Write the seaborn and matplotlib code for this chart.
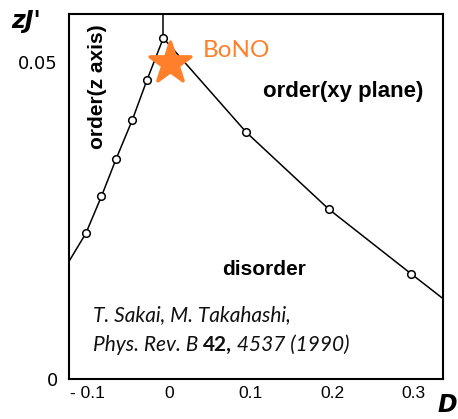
import numpy as np
import pandas as pd
import matplotlib.pyplot as plt
import seaborn as sns

d_line = [-0.123, -0.102, -0.083, -0.065, -0.045, -0.027, -0.007, 0.095, 0.196, 0.297, 0.336]
zj_line = [0.0185, 0.0230, 0.0288, 0.0347, 0.0409, 0.0472, 0.0538, 0.0389, 0.0268, 0.0166, 0.0127]

# Computed points (open circles)
d_pts = [-0.102, -0.083, -0.065, -0.045, -0.027, -0.007, 0.095, 0.196, 0.297]
zj_pts = [0.0230, 0.0288, 0.0347, 0.0409, 0.0472, 0.0538, 0.0389, 0.0268, 0.0166]

# Vertical boundary between the two ordered phases
d_vert = [-0.007, -0.007]
zj_vert = [0.0538, 0.0576]

# BoNO estimate
bono_d = [0.001]
bono_zj = [0.0498]

x_ticks = [-0.1, 0, 0.1, 0.2, 0.3]
x_labels = ['- 0.1', '0', '0.1', '0.2', '0.3']
y_ticks = [0, 0.05]
y_labels = ['0', '0.05']

sns.set_style('white')
plt.rcParams['font.family'] = ['Liberation Sans', 'DejaVu Sans']
plt.rcParams['text.color'] = 'black'
plt.rcParams['xtick.color'] = 'black'
plt.rcParams['ytick.color'] = 'black'

df_line = pd.DataFrame({'D': d_line, 'zJ': zj_line})
df_pts = pd.DataFrame({'D': d_pts, 'zJ': zj_pts})
df_vert = pd.DataFrame({'D': d_vert, 'zJ': zj_vert})
df_bono = pd.DataFrame({'D': bono_d, 'zJ': bono_zj})

fig = plt.figure(figsize=(4.58, 4.19), dpi=100)
ax = fig.add_axes([0.1507, 0.0955, 0.8163, 0.8711])

sns.lineplot(data=df_line, x='D', y='zJ', color='black', linewidth=1.1,
             estimator=None, sort=False, ax=ax)
sns.lineplot(data=df_vert, x='D', y='zJ', color='black', linewidth=1.1,
             estimator=None, sort=False, ax=ax)
sns.scatterplot(data=df_pts, x='D', y='zJ', marker='o', s=30, facecolor='white',
                edgecolor='black', linewidth=1.1, zorder=3, ax=ax)
sns.scatterplot(data=df_bono, x='D', y='zJ', marker='*', s=950, color='#FF7F2A',
                edgecolor='#FF7F2A', linewidth=2.5, zorder=4, ax=ax)
ax.collections[-1].set_joinstyle('round')

ax.set_xlim(-0.1227, 0.336)
ax.set_ylim(0, 0.0576)
ax.set_xticks(x_ticks)
ax.set_xticklabels(x_labels, fontsize=12.5)
ax.set_yticks(y_ticks)
ax.set_yticklabels(y_labels, fontsize=13, family=['DejaVu Sans'])
ax.tick_params(axis='x', direction='in', length=5, width=1.2, pad=5)
ax.tick_params(axis='y', direction='inout', length=8, width=1.2, pad=4)
ax.set_xlabel('')
ax.set_ylabel('')
for s in ax.spines.values():
    s.set_linewidth(1.5)
    s.set_color('black')

# phase labels
ax.text(-0.088, 0.0461, 'order(z axis)', rotation=90, ha='center', va='center',
        fontsize=15, fontweight='bold')
ax.text(0.2135, 0.0453, 'order(xy plane)', ha='center', va='center', fontsize=16,
        fontweight='bold')
ax.text(0.1166, 0.0172, 'disorder', ha='center', va='center', fontsize=15, fontweight='bold')
ax.text(0.0828, 0.0519, 'BoNO', ha='center', va='center', fontsize=17.5, color='#FF7F2A',
        family=['Lato', 'DejaVu Sans'])

# citation, three pieces on one baseline
cite_font = dict(fontsize=15, family=['Lato', 'DejaVu Sans'], color='#111111', va='baseline')
ax.text(-0.0933, 0.00915, 'T. Sakai, M. Takahashi,', style='italic', **cite_font)
t1 = ax.text(-0.0933, 0.00442, 'Phys. Rev. B ', style='italic', **cite_font)
fig.canvas.draw()
inv = ax.transData.inverted()
x2 = inv.transform((t1.get_window_extent().x1, 0))[0]
t2 = ax.text(x2, 0.00442, '42,', fontweight='bold', **cite_font)
fig.canvas.draw()
x3 = inv.transform((t2.get_window_extent().x1, 0))[0]
ax.text(x3, 0.00442, ' 4537 (1990)', style='italic', **cite_font)

# axis labels
fig.text(11 / 458, 1 - 21 / 419, "zJ'", fontsize=17, fontweight='bold', style='italic',
         ha='left', va='center', family=['DejaVu Sans'])
fig.text(457 / 458, 1 - 405 / 419, 'D', fontsize=17, fontweight='bold', style='italic',
         ha='right', va='center', family=['DejaVu Sans'])

fig.savefig('out.png', dpi=100)
